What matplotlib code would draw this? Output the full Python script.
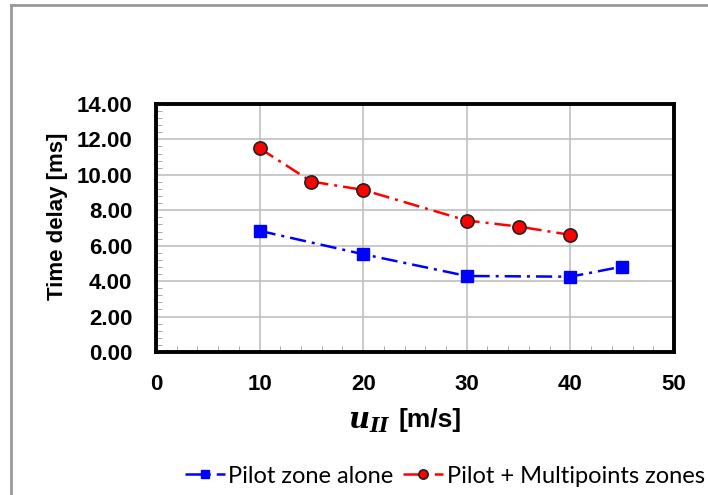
import numpy as np
import matplotlib.pyplot as plt
from matplotlib.lines import Line2D
from matplotlib.ticker import MultipleLocator

# data
u_pilot = [10, 20, 30, 40, 45]
delay_pilot = [6.84, 5.52, 4.29, 4.25, 4.82]
u_multi = [10, 15, 20, 30, 35, 40]
delay_multi = [11.50, 9.62, 9.15, 7.42, 7.08, 6.61]
x_ticks = [0, 10, 20, 30, 40, 50]
y_ticks = [0, 2, 4, 6, 8, 10, 12, 14]

plt.rcParams['font.family'] = ['Liberation Sans', 'DejaVu Sans']
plt.rcParams['mathtext.fontset'] = 'custom'
plt.rcParams['mathtext.it'] = 'DejaVu Serif:italic:bold'
plt.rcParams['mathtext.rm'] = 'DejaVu Serif:bold'

fig = plt.figure(figsize=(7.08, 4.95), dpi=100)
ax = fig.add_axes([0.2203, 0.2889, 0.7316, 0.5011])

dashdot = (0, (6.5, 2.4, 1.2, 2.4))
ax.plot(u_pilot, delay_pilot, color='blue', ls=dashdot, lw=1.8,
        marker='s', ms=9, mfc='blue', mec='blue', label='Pilot zone alone')
ax.plot(u_multi, delay_multi, color='red', ls=dashdot, lw=1.8,
        marker='o', ms=9.5, mfc='red', mec='#222222', mew=1.2,
        label='Pilot + Multipoints zones')

ax.set_xlim(0, 50)
ax.set_ylim(0, 14)
ax.set_xticks(x_ticks)
ax.set_yticks(y_ticks)
ax.set_yticklabels([f'{v:.2f}' for v in y_ticks])
ax.xaxis.set_minor_locator(MultipleLocator(2))
ax.yaxis.set_minor_locator(MultipleLocator(0.4))
ax.grid(True, which='major', color='#c0c0c0', lw=1.2)
ax.set_axisbelow(True)
ax.tick_params(which='major', length=0, labelsize=16)
ax.tick_params(axis='y', which='major', pad=17)
ax.tick_params(axis='x', which='major', pad=16)
ax.tick_params(which='minor', direction='in', length=4, color='#999999',
               top=False, right=False)
for lab in ax.get_xticklabels() + ax.get_yticklabels():
    lab.set_fontweight('bold')
for s in ax.spines.values():
    s.set_linewidth(2.8)
    s.set_color('black')

ax.set_ylabel('Time delay [ms]', fontsize=16, fontweight='bold')
ax.yaxis.set_label_coords(-0.17, 0.546)

# x label in two parts: bold italic math symbol + bold unit text
fig.text(0.552, 0.150, r'$u_{II}$', fontsize=21, ha='right', va='center')
fig.text(0.563, 0.152, '[m/s]', fontsize=19, fontweight='bold',
         ha='left', va='center')

fig.legend(handles=ax.get_lines(), loc='center right', bbox_to_anchor=(1.012, 0.038),
           ncol=2, frameon=False, prop={'family': 'Lato', 'size': 17},
           handlelength=1.7, handletextpad=0.15, columnspacing=0.4,
           markerscale=0.7, borderpad=0.0)

# outer gray frame of the chart area
fig.add_artist(Line2D([0.0155, 0.0155], [0, 0.989], color='#999999', lw=2))
fig.add_artist(Line2D([0.0155, 1.0], [0.989, 0.989], color='#999999', lw=2))

fig.savefig('out.png', dpi=100)
